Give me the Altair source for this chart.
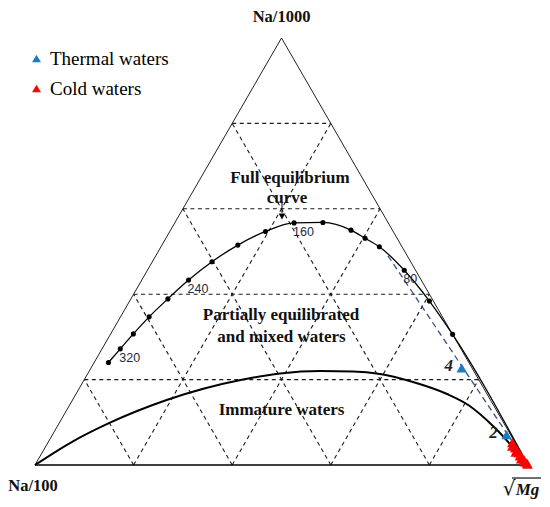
import altair as alt
import pandas as pd
import numpy as np

H = np.sqrt(3) / 2

# Ternary compositions (fractions): top = Na/1000, mg = sqrt(Mg); the rest = Na/100
full_top = [0.240, 0.272, 0.307, 0.347, 0.389, 0.433, 0.476, 0.515, 0.547, 0.567,
            0.568, 0.550, 0.531, 0.511, 0.456, 0.384, 0.306]
full_mg = [0.029, 0.037, 0.046, 0.058, 0.075, 0.095, 0.121, 0.154, 0.194, 0.242,
           0.300, 0.366, 0.404, 0.443, 0.521, 0.608, 0.694]
full_temp_idx = [1, 5, 9, 14]
full_temp_lbl = ["320", "240", "160", "80"]

imm_top = [0.0, 0.0515, 0.0991, 0.1522, 0.2002, 0.2143, 0.2201, 0.2190, 0.2131, 0.1944,
           0.1663, 0.1405, 0.0867, 0.0]
imm_mg = [0.0, 0.0452, 0.1026, 0.1910, 0.3218, 0.3899, 0.4680, 0.5355, 0.5932, 0.6695,
          0.7526, 0.8086, 0.8898, 1.0]

mix_top = [0.490, 0.0]
mix_mg = [0.471, 1.0]

thermal_top = [0.227, 0.071]
thermal_mg = [0.752, 0.921]
thermal_lbl = ["4", "2"]

cold_top = [0.052, 0.044, 0.040, 0.030, 0.035, 0.028, 0.021, 0.014, 0.016, 0.012, 0.007, 0.005, 0.002]
cold_mg = [0.942, 0.946, 0.954, 0.960, 0.960, 0.968, 0.973, 0.979, 0.980, 0.986, 0.990, 0.995, 0.998]

grid_steps = [0.2, 0.4, 0.6, 0.8]


def cart(top, mg):
    top = np.asarray(top, float)
    mg = np.asarray(mg, float)
    return mg + top / 2, top * H


# ---- tables ----
fx, fy = cart(full_top + [0.0], full_mg + [1.0])
full_curve = pd.DataFrame({"x": fx, "y": fy})
fdx, fdy = cart(full_top, full_mg)
full_dots = pd.DataFrame({"x": fdx, "y": fdy})
full_labels = pd.DataFrame({"x": fdx[full_temp_idx], "y": fdy[full_temp_idx], "t": full_temp_lbl})

ix, iy = cart(imm_top, imm_mg)
imm = pd.DataFrame({"x": ix, "y": iy})

mx, my = cart(mix_top, mix_mg)
mix = pd.DataFrame({"x": mx, "y": my})

tx, ty = cart(thermal_top, thermal_mg)
cx, cy = cart(cold_top, cold_mg)
pts = pd.DataFrame({
    "x": np.concatenate([tx, cx]),
    "y": np.concatenate([ty, cy]),
    "type": ["Thermal waters"] * len(tx) + ["Cold waters"] * len(cx),
})
thermal_text = pd.DataFrame({"x": tx, "y": ty, "t": thermal_lbl})

# grid segments (ternary)
seg = []
for k in grid_steps:
    a = cart([k, k], [0, 1 - k]); seg.append((a[0][0], a[1][0], a[0][1], a[1][1]))
    a = cart([0, 1 - k], [k, k]); seg.append((a[0][0], a[1][0], a[0][1], a[1][1]))
    a = cart([0, 1 - k], [1 - k, 0]); seg.append((a[0][0], a[1][0], a[0][1], a[1][1]))
grid = pd.DataFrame(seg, columns=["x", "y", "x2", "y2"])

vx, vy = cart([0, 1, 0], [0, 0, 1])  # Na/100, Na/1000, sqrt(Mg) vertices
sides = pd.DataFrame({"x": [vx[0], vx[1]], "y": [vy[0], vy[1]],
                      "x2": [vx[1], vx[2]], "y2": [vy[1], vy[2]]})
base = pd.DataFrame({"x": [vx[0]], "y": [vy[0]], "x2": [vx[2]], "y2": [vy[2]]})

xs = alt.Scale(domain=[0, 1], nice=False, zero=False)
ys = alt.Scale(domain=[0, H], nice=False, zero=False)
X = alt.X("x:Q", scale=xs, axis=None)
Y = alt.Y("y:Q", scale=ys, axis=None)

grid_l = alt.Chart(grid).mark_rule(strokeDash=[4, 3.5], color="#1a1a1a", strokeWidth=1.1).encode(
    x=X, y=Y, x2="x2:Q", y2="y2:Q")
sides_l = alt.Chart(sides).mark_rule(color="#222222", strokeWidth=1).encode(x=X, y=Y, x2="x2:Q", y2="y2:Q")
base_l = alt.Chart(base).mark_rule(color="black", strokeWidth=1.6).encode(x=X, y=Y, x2="x2:Q", y2="y2:Q")

imm_l = alt.Chart(imm).mark_line(color="black", strokeWidth=2, interpolate="monotone").encode(
    x=X, y=Y, order="x:Q")
full_l = alt.Chart(full_curve).mark_line(color="black", strokeWidth=1.3, interpolate="monotone").encode(
    x=X, y=Y, order="x:Q")
dots_l = alt.Chart(full_dots).mark_circle(color="black", size=26, opacity=1).encode(x=X, y=Y)
mix_l = alt.Chart(mix).mark_line(color="#34507a", strokeWidth=1.3, strokeDash=[6, 4]).encode(x=X, y=Y)

temp_l = alt.Chart(full_labels).mark_text(
    align="left", baseline="middle", dx=-1, dy=9, font="Liberation Sans", fontSize=12.5, color="#1e2a44"
).encode(x=X, y=Y, text="t:N")

pts_l = alt.Chart(pts).mark_point(shape="triangle-up", filled=True, size=110, opacity=1).encode(
    x=X, y=Y,
    color=alt.Color("type:N", sort=["Thermal waters", "Cold waters"],
                    scale=alt.Scale(domain=["Thermal waters", "Cold waters"], range=["#1f7bc1", "#ff0000"]),
                    legend=alt.Legend(title=None, orient="none", legendX=-8, legendY=11,
                                      symbolType="triangle-up", symbolSize=80, symbolStrokeWidth=0,
                                      labelFont="Liberation Serif", labelFontSize=19, labelColor="black",
                                      labelOffset=4, rowPadding=10, padding=0, labelLimit=300)),
)
therm_txt = alt.Chart(thermal_text).mark_text(
    align="center", baseline="middle", dx=-13, dy=-2, font="Liberation Serif", fontSize=17,
    fontStyle="italic", fontWeight="bold", color="#222222").encode(x=X, y=Y, text="t:N")

# annotations (positions in plot data units)
ann = pd.DataFrame({
    "x": [0.517, 0.511, 0.499, 0.500, 0.500],
    "y": [0.582, 0.542, 0.304, 0.260, 0.112],
    "t": ["Full equilibrium", "curve", "Partially equilibrated", "and mixed waters", "Immature waters"],
})
ann_l = alt.Chart(ann).mark_text(font="Liberation Serif", fontSize=17, fontWeight="bold",
                                 color="#111111", baseline="middle").encode(x=X, y=Y, text="t:N")

corner = pd.DataFrame({"x": [0.500, -0.004], "y": [0.909, -0.043], "t": ["Na/1000", "Na/100"]})
corner_l = alt.Chart(corner).mark_text(font="Liberation Serif", fontSize=16.5, fontWeight="bold",
                                       color="#111111", baseline="middle").encode(x=X, y=Y, text="t:N")

rad_l = alt.Chart(pd.DataFrame({"x": [0.9615], "y": [-0.049], "t": ["√"]})).mark_text(
    font="DejaVu Serif", fontSize=20, color="#111111", baseline="middle").encode(x=X, y=Y, text="t:N")
mg_l = alt.Chart(pd.DataFrame({"x": [0.999], "y": [-0.051], "t": ["Mg"]})).mark_text(
    font="Liberation Serif", fontSize=17, fontWeight="bold", fontStyle="italic", color="#111111",
    baseline="middle").encode(x=X, y=Y, text="t:N")
over_l = alt.Chart(pd.DataFrame({"x": [0.9675], "y": [-0.0264], "x2": [1.0264]})).mark_rule(
    color="#111111", strokeWidth=1.2).encode(x=X, y=Y, x2="x2:Q")

arrow_stem = alt.Chart(pd.DataFrame({"x": [0.501], "y": [0.5314], "y2": [0.5112]})).mark_rule(
    color="black", strokeWidth=1).encode(x=X, y=Y, y2="y2:Q")
arrow_head = alt.Chart(pd.DataFrame({"x": [0.501], "y": [0.504]})).mark_point(
    shape="triangle-down", filled=True, size=45, color="black", opacity=1).encode(x=X, y=Y)

chart = alt.layer(
    grid_l, sides_l, base_l, imm_l, mix_l, full_l, dots_l, temp_l,
    arrow_stem, arrow_head, ann_l, corner_l, rad_l, mg_l, over_l,
    pts_l, therm_txt,
).properties(
    width=493, height=427,
    padding={"left": 27, "top": 30, "right": 14, "bottom": 34},
    autosize=alt.AutoSizeParams(type="none"),
).configure_view(stroke=None)

chart.save("out.html", embed_options={"renderer": "svg", "actions": False})
